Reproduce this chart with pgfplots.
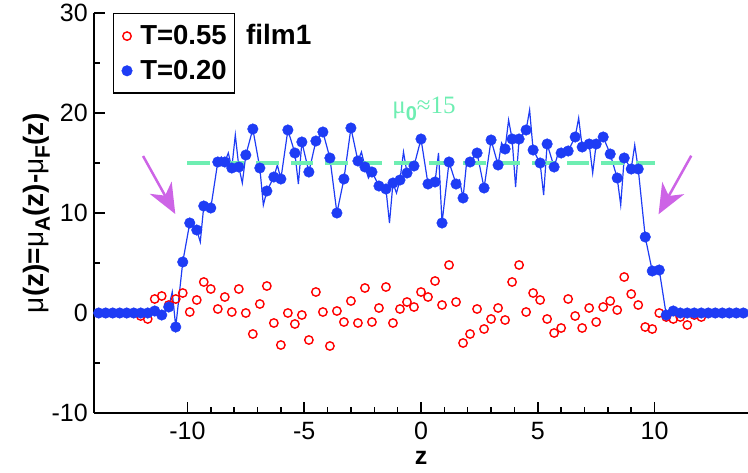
\documentclass[border=0pt]{standalone}
\usepackage{fontspec}
\setmainfont{Liberation Sans}
\newfontfamily\timesfont{Liberation Serif}
\usepackage{pgfplots}
\usepackage{pgfplotstable}
\pgfplotsset{compat=1.18}
\usetikzlibrary{arrows.meta}
\definecolor{myblue}{RGB}{30,60,245}
\definecolor{mint}{RGB}{110,238,178}
\definecolor{violetc}{RGB}{205,100,230}

\pgfplotstableread{
z v
-13.8 0
-13.5 0
-13.2 0
-12.9 0
-12.6 0
-12.3 0
-12.0 0
-11.7 0
-11.4 0.2
-11.1 -0.2
-10.8 0.6
-10.5 -1.4
-10.2 5.1
-9.9 9.0
-9.6 8.3
-9.3 10.7
-9.0 10.5
-8.7 15.1
-8.4 15.1
-8.1 14.5
-7.8 14.6
-7.5 15.8
-7.2 18.4
-6.9 14.5
-6.6 12.2
-6.3 13.6
-6.0 13.4
-5.7 18.3
-5.4 16.0
-5.1 17.1
-4.8 14.1
-4.5 17.2
-4.2 18.1
-3.9 15.5
-3.6 10.0
-3.3 13.4
-3.0 18.5
-2.7 15.2
-2.4 14.6
-2.1 14.1
-1.8 12.7
-1.5 12.4
-1.2 13.0
-0.9 13.3
-0.6 14.0
-0.3 14.7
0.0 17.4
0.3 12.9
0.6 13.1
0.9 9.0
1.2 15.1
1.5 12.9
1.8 11.5
2.1 15.1
2.4 16.0
2.7 12.5
3.0 17.3
3.3 14.8
3.6 16.4
3.9 17.4
4.2 17.4
4.5 18.3
4.8 16.3
5.1 15.0
5.4 16.9
5.7 14.6
6.0 16.0
6.3 16.2
6.6 17.6
6.9 16.6
7.2 16.9
7.5 16.9
7.8 17.6
8.1 15.9
8.4 13.5
8.7 15.5
9.0 14.4
9.3 14.4
9.6 7.6
9.9 4.2
10.2 4.3
10.5 -0.2
10.8 0.2
11.1 0
11.4 0
11.7 0
12.0 0
12.3 0
12.6 0
12.9 0
13.2 0
13.5 0
13.8 0
}\bluemarks

\pgfplotstableread{
z v
-13.8 0
-11.4 0.2
-11.1 -0.2
-10.8 0.6
-10.65 2.1
-10.5 -1.4
-10.2 5.1
-9.9 9.0
-9.6 8.3
-9.45 7.1
-9.3 10.7
-9.0 10.5
-8.7 15.1
-8.55 15.6
-8.4 15.1
-8.25 16.0
-8.1 14.5
-7.95 17.8
-7.8 14.6
-7.65 13.0
-7.5 15.8
-7.2 18.4
-6.9 14.5
-6.75 10.8
-6.6 12.2
-6.3 13.6
-6.15 14.8
-6.0 13.4
-5.7 18.3
-5.4 16.0
-5.25 12.9
-5.1 17.1
-4.8 14.1
-4.5 17.2
-4.2 18.1
-3.9 15.5
-3.6 10.0
-3.3 13.4
-3.0 18.5
-2.7 15.2
-2.55 16.1
-2.4 14.6
-2.25 13.5
-2.1 14.1
-1.8 12.7
-1.5 12.4
-1.35 9.0
-1.2 13.0
-1.05 12.0
-0.9 13.3
-0.75 16.1
-0.6 14.0
-0.3 14.7
0.0 17.4
0.3 12.9
0.6 13.1
0.75 16.0
0.9 9.0
1.2 15.1
1.5 12.9
1.65 13.3
1.8 11.5
1.95 15.0
2.1 15.1
2.4 16.0
2.7 12.5
3.0 17.3
3.3 14.8
3.45 17.0
3.6 16.4
3.75 19.3
3.9 17.4
4.05 12.6
4.2 17.4
4.5 18.3
4.65 20.3
4.8 16.3
5.1 15.0
5.25 11.8
5.4 16.9
5.7 14.6
5.85 15.8
6.0 16.0
6.3 16.2
6.6 17.6
6.75 19.5
6.9 16.6
7.2 16.9
7.35 14.0
7.5 16.9
7.8 17.6
8.1 15.9
8.4 13.5
8.55 10.8
8.7 15.5
9.0 14.4
9.15 16.8
9.3 14.4
9.6 7.6
9.9 4.2
10.2 4.3
10.5 -0.2
10.8 0.2
11.1 0
13.8 0
}\blueline

\pgfplotstableread{
z v
-13.8 0
-13.5 0
-13.2 0
-12.9 0
-12.6 0
-12.3 0
-12.0 -0.3
-11.7 -0.6
-11.4 1.4
-11.1 1.7
-10.8 0.8
-10.5 1.4
-10.2 2.0
-9.9 0.1
-9.6 1.3
-9.3 3.1
-9.0 2.4
-8.7 0.4
-8.4 1.6
-8.1 0.1
-7.8 2.4
-7.5 0.0
-7.2 -2.1
-6.9 0.9
-6.6 2.7
-6.3 -1.0
-6.0 -3.2
-5.7 0.0
-5.4 -1.1
-5.1 -0.2
-4.8 -2.7
-4.5 2.1
-4.2 0.1
-3.9 -3.3
-3.6 0.2
-3.3 -0.9
-3.0 1.2
-2.7 -1.0
-2.4 2.5
-2.1 -0.9
-1.8 0.5
-1.5 2.6
-1.2 -1.0
-0.9 0.4
-0.6 1.1
-0.3 0.6
0.0 2.1
0.3 1.6
0.6 3.2
0.9 0.8
1.2 4.8
1.5 1.1
1.8 -3.0
2.1 -2.1
2.4 0.4
2.7 -1.6
3.0 -0.6
3.3 0.5
3.6 -0.7
3.9 3.1
4.2 4.8
4.5 0.1
4.8 2.0
5.1 1.3
5.4 -0.6
5.7 -2.0
6.0 -1.5
6.3 1.4
6.6 -0.3
6.9 -1.5
7.2 0.5
7.5 -0.9
7.8 0.6
8.1 1.2
8.4 0.3
8.7 3.6
9.0 1.9
9.3 0.8
9.6 -1.4
9.9 -1.6
10.2 0.0
10.5 -0.4
10.8 -0.6
11.1 -0.4
11.4 -1.2
11.7 -0.2
12.0 -0.4
12.3 0
12.6 0
12.9 0
13.2 0
13.5 0
13.8 0
}\redmarks

\begin{document}
\begin{tikzpicture}
\begin{axis}[
  name=ax,
  scale only axis, width=654pt, height=400pt,
  xmin=-14, xmax=14, ymin=-10, ymax=30,
  clip=false,
  axis x line=bottom, axis y line=left,
  x axis line style={-}, y axis line style={-},
  axis line style={line width=1.8pt, black},
  xtick={-10,-5,0,5,10}, minor x tick num=4,
  ytick={-10,0,10,20,30}, minor y tick num=1,
  tick align=inside,
  major tick length=11pt, minor tick length=6pt,
  every tick/.style={black, line width=1.5pt},
  /pgf/number format/assume math mode=true,
  ticklabel style={font=\fontsize{25}{28}\selectfont},
  xticklabel style={anchor=north, inner sep=0pt, yshift=-9pt},
  yticklabel style={anchor=east, inner sep=0pt, xshift=-6pt},
  xlabel={z},
  xlabel style={at={(axis description cs:0.5,-0.1275)}, anchor=base, inner sep=0pt, font=\bfseries\fontsize{25}{28}\selectfont},
  ylabel={{\mdseries μ}(z)={\mdseries μ}\raisebox{-6pt}{\fontsize{21}{21}\selectfont A}(z)-{\mdseries μ}\raisebox{-6pt}{\fontsize{21}{21}\selectfont F}(z)},
  ylabel style={at={(axis description cs:-0.0673,0.5)}, rotate=0, anchor=south, inner sep=0pt, font=\bfseries\fontsize{28}{32}\selectfont},
  legend style={at={(axis description cs:0.029,1)}, anchor=north west, draw=black, line width=1.5pt,
    font=\bfseries\fontsize{27.5}{30}\selectfont, inner xsep=8pt, inner ysep=12pt,
    nodes={inner sep=0pt}, row sep=14pt, column sep=8pt},
  legend cell align=left,
  legend image code/.code={\draw[#1] plot coordinates {(0pt,0pt)};},
]
\addplot[only marks, mark=o, mark size=4.2pt, red, line width=1.4pt] table[x=z,y=v] {\redmarks};
\addlegendentry{T=0.55}
\addplot[myblue, line width=1.2pt, forget plot] table[x=z,y=v] {\blueline};
\addplot[mint, line width=3.5pt, dash pattern=on 22.5pt off 12pt, forget plot] coordinates {(-10,15) (10,15)};
\addplot[only marks, mark=*, mark size=5.3pt, myblue, line width=0.4pt, mark options={fill=myblue, draw=myblue}] table[x=z,y=v] {\bluemarks};
\addlegendentry{T=0.20}
\node[anchor=base west, font=\bfseries\fontsize{28}{30}\selectfont, inner sep=0pt] at (axis cs:-7.5,26.8) {film1};
\node[anchor=base, text=mint, inner sep=0pt, font=\timesfont\fontsize{25}{28}\selectfont] at (axis cs:0.13,20) {μ\raisebox{-7pt}{\normalfont\bfseries\fontsize{20}{20}\selectfont 0}≈15};
\draw[-{Stealth[length=30pt,width=25pt,inset=9pt]}, line width=2.5pt, violetc] (axis cs:-11.9,15.7) -- (axis cs:-10.52,9.9);
\draw[-{Stealth[length=30pt,width=25pt,inset=9pt]}, line width=2.5pt, violetc] (axis cs:11.57,15.73) -- (axis cs:10.17,9.87);
\end{axis}
\pgfresetboundingbox
\path ([shift={(-94pt,-59pt)}]ax.south west) rectangle ([shift={(0pt,13pt)}]ax.north east);
\end{tikzpicture}
\end{document}
